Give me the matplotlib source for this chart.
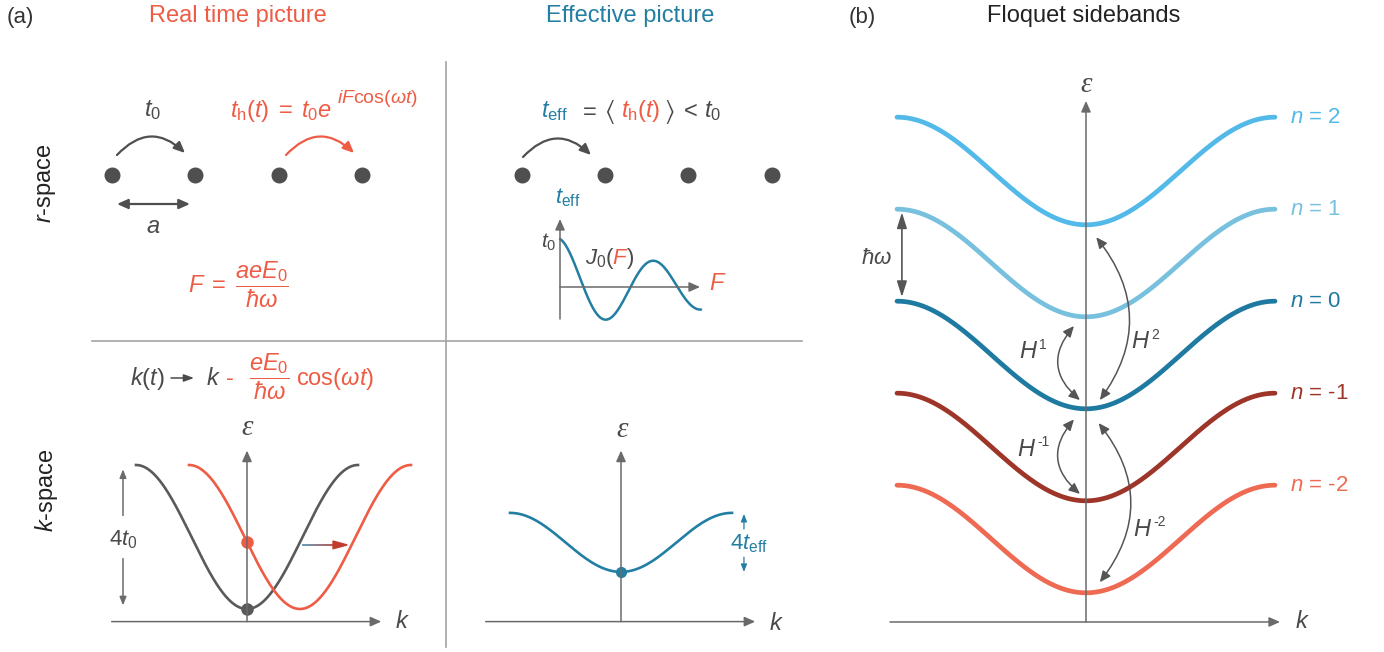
import numpy as np
import matplotlib
matplotlib.use('Agg')
import matplotlib.pyplot as plt
from matplotlib.colors import to_rgb
from matplotlib.collections import LineCollection

plt.rcParams['font.family'] = ['Liberation Sans', 'DejaVu Sans']
plt.rcParams['mathtext.fontset'] = 'custom'
plt.rcParams['mathtext.rm'] = 'Liberation Sans'
plt.rcParams['mathtext.it'] = 'Liberation Sans:italic'
plt.rcParams['mathtext.bf'] = 'Liberation Sans:bold'
plt.rcParams['mathtext.fallback'] = 'stixsans'

W, H = 1384, 652

RED = '#ee5c45'
BLUE = '#237ea3'
DOT = '#4f4f4f'
TXT = '#4a4a4a'
AXC = '#6a6a6a'
DIV = '#a3a3a3'

# --- schematic data ---
sites = np.arange(4)                       # lattice sites shown in each chain
t0 = 1.0                                   # bare hopping
t_eff = 0.41                               # renormalised hopping (units of t0)
eff_offset = -0.15
field_shift = 1.5                          # k shift of the driven band
k_band = np.linspace(-np.pi, np.pi, 400)

floquet_n = [2, 1, 0, -1, -2]
floquet_labels = ['2', '1', '0', '-1', '-2']
floquet_colors = ['#52b9e9', '#77c0de', '#1e7aa0', '#9d3529', '#ee6a52']
floquet_width = 1.17                       # bandwidth in units of hbar*omega

F_vals = np.linspace(0, 10.85, 300)        # J0 sketch
j0_period = 7.23
j0_decay = 3.08

# coupling arrows between sidebands: order, start, end, bend, label pos
couplings = [
    ('1', (-0.20, 0.315), (-0.10, -0.49), 0.5, (-0.80, 0.03)),
    ('2', (0.17, 1.28), (0.23, -0.49), -0.38, (1.06, 0.14)),
    ('-1', (-0.20, -0.70), (-0.10, -1.51), 0.5, (-0.83, -1.03)),
    ('-2', (0.21, -0.74), (0.23, -2.47), -0.39, (1.10, -1.90)),
]

fig = plt.figure(figsize=(W / 100, H / 100), dpi=100)
ov = fig.add_axes([0, 0, 1, 1])
ov.set_xlim(0, W)
ov.set_ylim(H, 0)
ov.axis('off')
renderer = fig.canvas.get_renderer()


def sub_axes(box, center, scale):
    x0, y0, x1, y1 = box
    cx, cy = center
    sx, sy = scale
    ax = fig.add_axes([x0 / W, 1 - y1 / H, (x1 - x0) / W, (y1 - y0) / H])
    ax.set_xlim((x0 - cx) / sx, (x1 - cx) / sx)
    ax.set_ylim((cy - y1) / sy, (cy - y0) / sy)
    ax.axis('off')
    return ax


def arrow(ax, start, end, style='-|>', color=AXC, lw=1.1, hl=0.65, hw=0.29, rad=0.0):
    ax.annotate('', xy=end, xytext=start,
                arrowprops=dict(arrowstyle=f'{style},head_length={hl},head_width={hw}',
                                color=color, lw=lw, shrinkA=0, shrinkB=0,
                                mutation_scale=10,
                                connectionstyle=f'arc3,rad={rad}'))


def txt(x, y, s, color=TXT, size=17, ha='center', va='center', ax=ov, **kw):
    return ax.text(x, y, s, color=color, fontsize=size, ha=ha, va=va, **kw)


def chain(x, y, pieces, size=17, gap=1):
    # lay mixed-colour pieces one after another along a baseline
    for s, c in pieces:
        t = txt(x, y, s, c, size, ha='left', va='baseline')
        x = t.get_window_extent(renderer).x1 + gap


# --- frame of panel (a) ---
ov.plot([446, 446], [62, 647], color=DIV, lw=1.2)
ov.plot([92, 802], [341, 341], color=DIV, lw=1.2)

txt(20, 17, '(a)', '#333333', 16)
txt(238, 16, 'Real time picture', RED)
txt(630, 16, 'Effective picture', BLUE)
txt(862, 17, '(b)', '#333333', 16)
txt(1084, 16, 'Floquet sidebands', '#222222')
txt(47, 183, r'$r$-space', '#222222', rotation=90)
txt(47, 490, r'$k$-space', '#222222', rotation=90)

# --- r-space, real time ---
ov.plot(112 + 83.4 * sites, np.full(4, 175), 'o', ms=10.5, color=DOT)
ov.plot(522 + 83.2 * sites, np.full(4, 175), 'o', ms=10.5, color=DOT)
arrow(ov, (117, 155), (185, 153), color=DOT, lw=1.6, rad=-0.5)
arrow(ov, (286, 155), (354, 153), color=RED, lw=1.6, rad=-0.5)
arrow(ov, (523, 157), (591, 155), color=DOT, lw=1.6, rad=-0.5)
arrow(ov, (117, 204), (190, 204), style='<|-|>', color=DOT, lw=1.6)
txt(153, 227, r'$a$')
txt(153, 116, r'$t_0$', va='baseline')
txt(230, 117, r'$t_{\mathrm{h}}(t)\;=\;t_0e$', RED, ha='left', va='baseline')
txt(337, 103, r'$iF\mathrm{cos}(\omega t)$', RED, 14, ha='left', va='baseline')
txt(188, 293, r'$F\;=\;\dfrac{aeE_0}{ħ\omega}$', RED, ha='left', va='baseline')

# --- r-space, effective ---
txt(541, 117, r'$t_{\mathrm{eff}}$', BLUE, ha='left', va='baseline')
txt(588, 117, r'$=$', va='baseline')
txt(609, 118, r'$\langle$', size=19, va='baseline')
txt(621, 117, r'$t_{\mathrm{h}}(t)$', RED, ha='left', va='baseline')
txt(669, 118, r'$\rangle$', size=19, va='baseline')
txt(689, 117, r'$<$', va='baseline')
txt(704, 117, r'$t_0$', ha='left', va='baseline')

axJ = sub_axes((530, 190, 730, 330), (560, 287), (13, 48))
arrow(axJ, (0, -0.667), (0, 1.417))
arrow(axJ, (0, 0), (10.77, 0))
axJ.plot(F_vals, np.cos(2 * np.pi * F_vals / j0_period) / np.sqrt(1 + F_vals / j0_decay),
         color=BLUE, lw=1.8, solid_capstyle='round')
txt(568, 198, r'$t_{\mathrm{eff}}$', BLUE, 16)
txt(549, 242, r'$t_0$', size=15)
chain(585, 264, [(r'$J_0($', TXT), (r'$F$', RED), (r'$)$', TXT)], size=16, gap=-2.5)
txt(718, 284, r'$F$', RED)

# --- k-space, real time ---
axL = sub_axes((95, 415, 430, 645), (247, 537), (35.33, 36))
arrow(axL, (0, -2.35), (0, 2.4))
arrow(axL, (-3.83, -2.35), (3.8, -2.35))
axL.plot(k_band, -2 * t0 * np.cos(k_band), color='#5a5a5a', lw=1.9)
axL.plot(k_band + field_shift, -2 * t0 * np.cos(k_band), color=RED, lw=1.9)
axL.plot(0, -2 * t0, 'o', ms=8, color='#5a5a5a')
axL.plot(0, -2 * t0 * np.cos(-field_shift), 'o', ms=8, color=RED)
e_arr = -0.22
k_g = np.arccos(-e_arr / (2 * t0))
xs = np.linspace(k_g + 0.1, k_g + field_shift - 0.35, 30)
seg = np.array([[[xs[i], e_arr], [xs[i + 1], e_arr]] for i in range(len(xs) - 1)])
c0 = np.array(to_rgb('#5b93b5'))
c1 = np.array(to_rgb('#c23b2e'))
cols = [c0 + (c1 - c0) * f for f in np.linspace(0, 1, len(seg))]
axL.add_collection(LineCollection(seg, colors=cols, lw=1.3))
arrow(axL, (k_g + field_shift - 0.4, e_arr), (k_g + field_shift - 0.05, e_arr),
      color='#c23b2e', lw=1.3, hl=0.95, hw=0.26)
arrow(axL, (-3.51, 0.6), (-3.51, 1.88), lw=1.1, hl=0.5, hw=0.2)
arrow(axL, (-3.51, -0.6), (-3.51, -1.9), lw=1.1, hl=0.5, hw=0.2)
txt(-3.51, -0.08, r'$4t_0$', size=16, ax=axL)
txt(247, 428, 'ε', size=21, family='Liberation Serif', style='italic')
txt(402, 622, r'$k$')

# k(t) -> k - eE0/(hbar w) cos(wt)
txt(130, 385, r'$k(t)$', ha='left', va='baseline')
arrow(ov, (171, 378), (194, 378), color=TXT, lw=1.1, hl=0.6, hw=0.22)
txt(206, 385, r'$k$', ha='left', va='baseline')
txt(230, 385, '-', RED, ha='center', va='baseline')
txt(269, 385, r'$\dfrac{eE_0}{ħ\omega}$', RED, va='baseline')
txt(296, 385, r'$\mathrm{cos}(\omega t)$', RED, ha='left', va='baseline')

# --- k-space, effective ---
axR = sub_axes((470, 415, 800, 645), (621, 537), (35.33, 36))
arrow(axR, (0, -2.35), (0, 2.4))
arrow(axR, (-3.83, -2.35), (3.8, -2.35))
axR.plot(k_band, eff_offset - 2 * t_eff * np.cos(k_band), color=BLUE, lw=1.9)
axR.plot(0, eff_offset - 2 * t_eff, 'o', ms=7, color=BLUE)
arrow(axR, (3.48, 0.22), (3.48, 0.64), color=BLUE, lw=0.9, hl=0.45, hw=0.18)
arrow(axR, (3.48, -0.56), (3.48, -0.97), color=BLUE, lw=0.9, hl=0.45, hw=0.18)
txt(3.62, -0.19, r'$4t_{\mathrm{eff}}$', BLUE, 16, ax=axR)
txt(622, 430, 'ε', size=21, family='Liberation Serif', style='italic')
txt(776, 624, r'$k$')

# --- panel (b): Floquet sidebands ---
axB = sub_axes((860, 60, 1300, 640), (1086, 355), (60.16, 92))
arrow(axB, (0, -2.902), (0, 2.761))
arrow(axB, (-3.258, -2.902), (3.225, -2.902))
for n, lab, c in zip(floquet_n, floquet_labels, floquet_colors):
    axB.plot(k_band, n - floquet_width / 2 * np.cos(k_band), color=c, lw=3.4,
             solid_capstyle='round')
    txt(np.pi + 0.25, n + floquet_width / 2, r'$n$ = ' + lab, c, 16, ha='left', ax=axB)
arrow(axB, (-3.06, 1.55), (-3.06, 0.63), style='<|-|>', color='#555555', lw=1.2,
      hl=0.95, hw=0.3)
txt(-3.49, 1.05, r'$ħ\omega$', size=16, ax=axB)
for order, p0, p1, bend, lp in couplings:
    arrow(axB, p0, p1, style='<|-|>', color='#555555', lw=1.1, rad=bend)
    txt(lp[0], lp[1], r'$H$', size=17, ha='right', ax=axB)
    txt(lp[0] + 0.02, lp[1] + 0.08, order, size=10, ha='left', ax=axB)
txt(1086, 85, 'ε', size=21, family='Liberation Serif', style='italic')
txt(1302, 622, r'$k$')

fig.savefig('out.png', dpi=100)
